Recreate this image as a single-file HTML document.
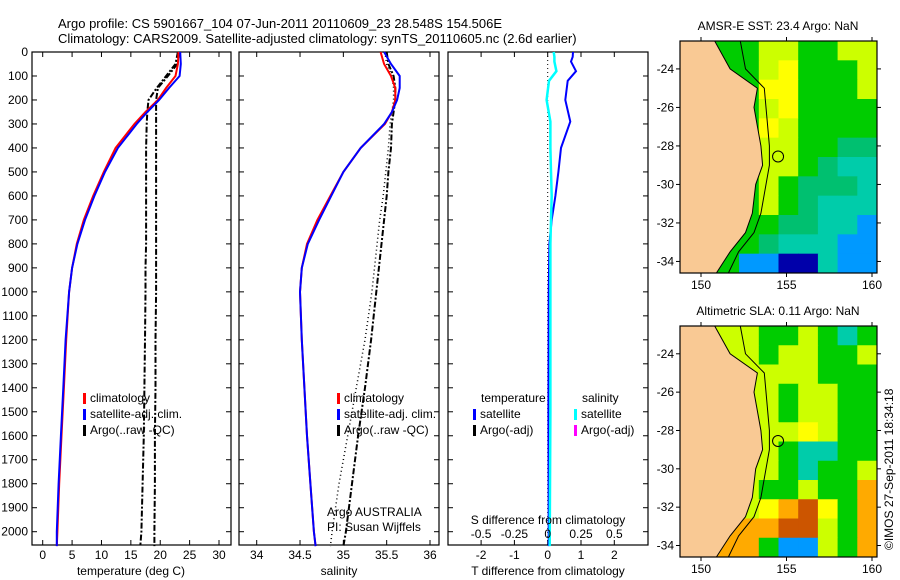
<!DOCTYPE html>
<html><head><meta charset="utf-8"><style>
body{margin:0;background:#fff}
svg{display:block;font-family:"Liberation Sans",sans-serif}
</style></head><body>
<svg id="fig" width="900" height="580" viewBox="0 0 900 580" xmlns="http://www.w3.org/2000/svg">
<text x="58" y="28" font-size="13">Argo profile: CS 5901667_104 07-Jun-2011 20110609_23 28.548S 154.506E</text>
<text x="58" y="43" font-size="13">Climatology: CARS2009. Satellite-adjusted climatology: synTS_20110605.nc (2.6d earlier)</text>
<g id="g1"></g>
<g id="g2"></g>
<g id="g3"></g>
<g id="m1"></g>
<g id="m2"></g>
<text transform="translate(893,550) rotate(-90)" font-size="12">©IMOS 27-Sep-2011 18:34:18</text>
</svg>
<script>
const depth=[0,50,100,150,200,250,300,400,500,600,700,800,900,1000,1200,1400,1600,1800,2000,2060];
const tempClim=[23.1,23,22.6,21,19.6,17.5,15.6,12.4,10.4,8.6,7,5.8,5,4.5,4,3.6,3.2,2.8,2.5,2.4];
const tempSat=[23.4,23.5,23.3,21.5,19.8,17.8,16,12.8,10.6,8.8,7.2,5.9,5,4.5,3.9,3.5,3.1,2.7,2.4,2.4];
const argoT1=[23,22.6,21,19.4,18,17.8,17.7,17.6,17.6,17.6,17.6,17.6,17.5,17.5,17.4,17.3,17.2,17,16.8,16.6];
const argoT2=[23.2,22.9,21.3,19.6,19.3,19.3,19.3,19.3,19.3,19.3,19.3,19.3,19.3,19.3,19.2,19.2,19.1,19.1,19,19];
const salClim=[35.43,35.47,35.55,35.6,35.6,35.56,35.48,35.2,35.0,34.85,34.7,34.58,34.52,34.5,34.52,34.55,34.58,34.62,34.66,34.68];
const salSat=[35.47,35.55,35.65,35.65,35.62,35.56,35.47,35.2,35.0,34.86,34.72,34.59,34.52,34.5,34.52,34.55,34.58,34.62,34.66,34.68];
const argoS1=[35.5,35.52,35.58,35.6,35.6,35.58,35.56,35.55,35.52,35.5,35.47,35.44,35.41,35.38,35.32,35.25,35.17,35.1,35.03,35.0];
const argoS2=[35.48,35.5,35.56,35.58,35.58,35.56,35.54,35.52,35.49,35.46,35.42,35.39,35.36,35.33,35.25,35.15,35.05,34.95,34.87,34.85];
const dDepth=[0,20,40,80,120,200,290,400,500,600,700,800,1000,1500,2060];
const tDiff=[0.76,0.75,0.7,0.85,0.6,0.53,0.68,0.4,0.32,0.23,0.12,0.05,0.03,0.02,0.03];
const sDiff=[0.045,0.05,0.05,0.065,0.01,-0.008,0.02,0.02,0.025,0.03,0.025,0.02,0.02,0.02,0.015];
const yTicks=[0,100,200,300,400,500,600,700,800,900,1000,1100,1200,1300,1400,1500,1600,1700,1800,1900,2000];
const tTicks=[0,5,10,15,20,25,30];
const sTicks=[34,34.5,35,35.5,36];
const dTicks=[-2,-1,0,1,2];
const dsTicks=["-0.5","-0.25","0","0.25","0.5"];
const latTicks=[-24,-26,-28,-30,-32,-34];
const lonTicks=[150,155,160];
const sstGrid=["GGGGYYGGYY","GGGGYyGGGY","GGGGyyGGGY","GGGGYyGGGG","GGGGyYGGGG","GGGGYYGGTT","GGGGYYGTCC","GGGGYGTTTC","GGGGYGTCCC","GGGGGTTCCB","GGGGTCCCBB","GGGBBDDCBB"];
const slaGrid=["YYYYGGYGCG","YYYYGYYGGY","YYYYYYYGGG","YYYYYGYYGG","YYYYYGYYGG","YYYYYYyYGG","YYYYYGCCGG","YYYYYGCGGY","YYYYGGYGGO","YYYYyORyGO","YOOOORRYGO","YOOOGBBYGO"];
const coastLon=[150.8,151.7,153.3,153.1,153.5,153.6,153.2,153,152.6,151.7,150.9];
const coastLat=[-22.55,-24,-25,-26,-28,-29,-30,-31.5,-32.5,-33.5,-34.6];
const isoLon=[152.3,152.6,153.7,153.8,154,154,153.8,153.5,153.1,152.2,151.6];

const NS='http://www.w3.org/2000/svg';
function mk(p,t,a,txt){const e=document.createElementNS(NS,t);for(const k in a)e.setAttribute(k,a[k]);if(txt!==undefined)e.textContent=txt;p.appendChild(e);return e;}
const Y=d=>52+d*(531.7-52)/2000;
function poly(g,xs,ys,fx,stroke,w,dash,name){let pts=xs.map((v,i)=>fx(v).toFixed(1)+','+Y(ys[i]).toFixed(1)).join(' ');
 const e=mk(g,'polyline',{points:pts,fill:'none',stroke:stroke,'stroke-width':w});if(dash)e.setAttribute('stroke-dasharray',dash);
 
 }
function frame(g,x0,x1,labels){mk(g,'rect',{x:x0,y:52,width:x1-x0,height:493,fill:'none',stroke:'#000','stroke-width':1.2});
 yTicks.forEach(d=>{const y=Y(d);mk(g,'line',{x1:x0,x2:x0+5,y1:y,y2:y,stroke:'#000'});mk(g,'line',{x1:x1-5,x2:x1,y1:y,y2:y,stroke:'#000'});
 if(labels){const t=mk(g,'text',{x:x0-4,y:y+4,'font-size':12,'text-anchor':'end'},String(d));}});}
function xt(g,xs,fx,labs){xs.forEach((v,i)=>{const x=fx(v);mk(g,'line',{x1:x,x2:x,y1:545,y2:540,stroke:'#000'});mk(g,'line',{x1:x,x2:x,y1:52,y2:57,stroke:'#000'});
 const t=mk(g,'text',{x:x,y:559,'font-size':12,'text-anchor':'middle'},labs?labs[i]:String(v));});}
function legend(g,x,y,items){items.forEach((it,i)=>{mk(g,'rect',{x:x,y:y+i*16-9,width:3,height:11,fill:it[1]});
 const t=mk(g,'text',{x:x+7,y:y+i*16,'font-size':12},it[0]);});}

const g1=document.getElementById('g1');const fT=v=>42.7+v*(219-42.7)/30;
frame(g1,32,231,true);xt(g1,tTicks,fT);
poly(g1,argoT1,depth,fT,'#000',2,'6,2,2,2','argo-temp-line-1');
poly(g1,argoT2,depth,fT,'#000',2,'6,2,2,2','argo-temp-line-2');
poly(g1,tempClim,depth,fT,'#f00',2,null,'climatology-temp-line');
poly(g1,tempSat,depth,fT,'#00f',2,null,'satellite-temp-line');
legend(g1,83,402,[['climatology','#f00'],['satellite-adj. clim.','#00f'],['Argo(..raw -QC)','#000']]);
mk(g1,'text',{x:131,y:575,'font-size':12,'text-anchor':'middle',},'temperature (deg C)');

const g2=document.getElementById('g2');const fS=v=>256.7+(v-34)*(430-256.7)/2;
frame(g2,239,439,false);xt(g2,sTicks,fS);
poly(g2,argoS2,depth,fS,'#000',1.5,'1,3','argo-sal-line-2');
poly(g2,argoS1,depth,fS,'#000',2,'6,2,2,2','argo-sal-line-1');
poly(g2,salClim,depth,fS,'#f00',2,null,'climatology-sal-line');
poly(g2,salSat,depth,fS,'#00f',2,null,'satellite-sal-line');
legend(g2,337,402,[['climatology','#f00'],['satellite-adj. clim.','#00f'],['Argo(..raw -QC)','#000']]);
mk(g2,'text',{x:327,y:516,'font-size':12,},'Argo AUSTRALIA');
mk(g2,'text',{x:327,y:531,'font-size':12,},'PI: Susan Wijffels');
mk(g2,'text',{x:339,y:575,'font-size':12,'text-anchor':'middle',},'salinity');

const g3=document.getElementById('g3');const fD=v=>547.7+v*33.3;const fDS=v=>fD(v*4);
frame(g3,448,648,false);xt(g3,dTicks,fD);
mk(g3,'line',{x1:fD(0),x2:fD(0),y1:52,y2:545,stroke:'#000','stroke-dasharray':'1,3'});
poly(g3,tDiff,dDepth,fD,'#00f',2,null,'temp-diff-line');
poly(g3,sDiff,dDepth,fDS,'#0ff',2.5,null,'sal-diff-line');
dsTicks.forEach((s,i)=>{const t=mk(g3,'text',{x:fD(dTicks[i]),y:538,'font-size':12,'text-anchor':'middle'},s);});
mk(g3,'text',{x:548,y:524,'font-size':12,'text-anchor':'middle',},'S difference from climatology');
mk(g3,'text',{x:548,y:575,'font-size':12,'text-anchor':'middle',},'T difference from climatology');
mk(g3,'text',{x:481,y:402,'font-size':12},'temperature');mk(g3,'text',{x:582,y:402,'font-size':12},'salinity');
legend(g3,473,418,[['satellite','#00f'],['Argo(-adj)','#000']]);
legend(g3,574,418,[['satellite','#0ff'],['Argo(-adj)','#f0f']]);

const COL={G:'#00cc00',g:'#33dd00',Y:'#ccff00',y:'#ffff00',T:'#00c070',C:'#00ccaa',B:'#0099ff',D:'#0000aa',O:'#ffaa00',R:'#cc5500'};
function map(id,y0,y1,grid,title){const g=document.getElementById(id);const x0=680,x1=877;
 const fx=lon=>701+(lon-150)*17.1;
 const fyy=lat=>y0+(-22.55-lat)*(y1-y0)/12.05;
 const cw=(x1-x0)/10,ch=(y1-y0)/12;
 grid.forEach((row,r)=>[...row].forEach((c,k)=>{mk(g,'rect',{x:x0+k*cw,y:y0+r*ch,width:cw+0.5,height:ch+0.5,fill:COL[c]});}));
 let land=coastLon.map((v,i)=>fx(v).toFixed(1)+','+fyy(coastLat[i]).toFixed(1)).join(' ');
 land+=' '+x0+','+y1+' '+x0+','+y0;
 const l=mk(g,'polygon',{points:land,fill:'#f9c994',stroke:'#000','stroke-width':1});
 mk(g,'polyline',{points:isoLon.map((v,i)=>fx(v).toFixed(1)+','+fyy(coastLat[i]).toFixed(1)).join(' '),fill:'none',stroke:'#000','stroke-width':1});
 const c=mk(g,'circle',{cx:fx(154.506),cy:fyy(-28.548),r:5.5,fill:'none',stroke:'#000'});
 mk(g,'rect',{x:x0,y:y0,width:x1-x0,height:y1-y0,fill:'none',stroke:'#000','stroke-width':1.2});
 latTicks.forEach(v=>{const y=fyy(v);mk(g,'line',{x1:x0-4,x2:x0,y1:y,y2:y,stroke:'#000'});mk(g,'line',{x1:x1,x2:x1+4,y1:y,y2:y,stroke:'#000'});
  const t=mk(g,'text',{x:x0-6,y:y+4,'font-size':12,'text-anchor':'end'},String(v));});
 lonTicks.forEach(v=>{const x=fx(v);mk(g,'line',{x1:x,x2:x,y1:y0-4,y2:y0,stroke:'#000'});mk(g,'line',{x1:x,x2:x,y1:y1,y2:y1+4,stroke:'#000'});
  const t=mk(g,'text',{x:x,y:y1+16,'font-size':12,'text-anchor':'middle'},String(v));});
 const t=mk(g,'text',{x:778,y:y0-11,'font-size':12,'text-anchor':'middle'},title);}
map('m1',41,273,sstGrid,'AMSR-E SST: 23.4 Argo: NaN');
map('m2',326,557,slaGrid,'Altimetric SLA: 0.11 Argo: NaN');
</script>
</body></html>
